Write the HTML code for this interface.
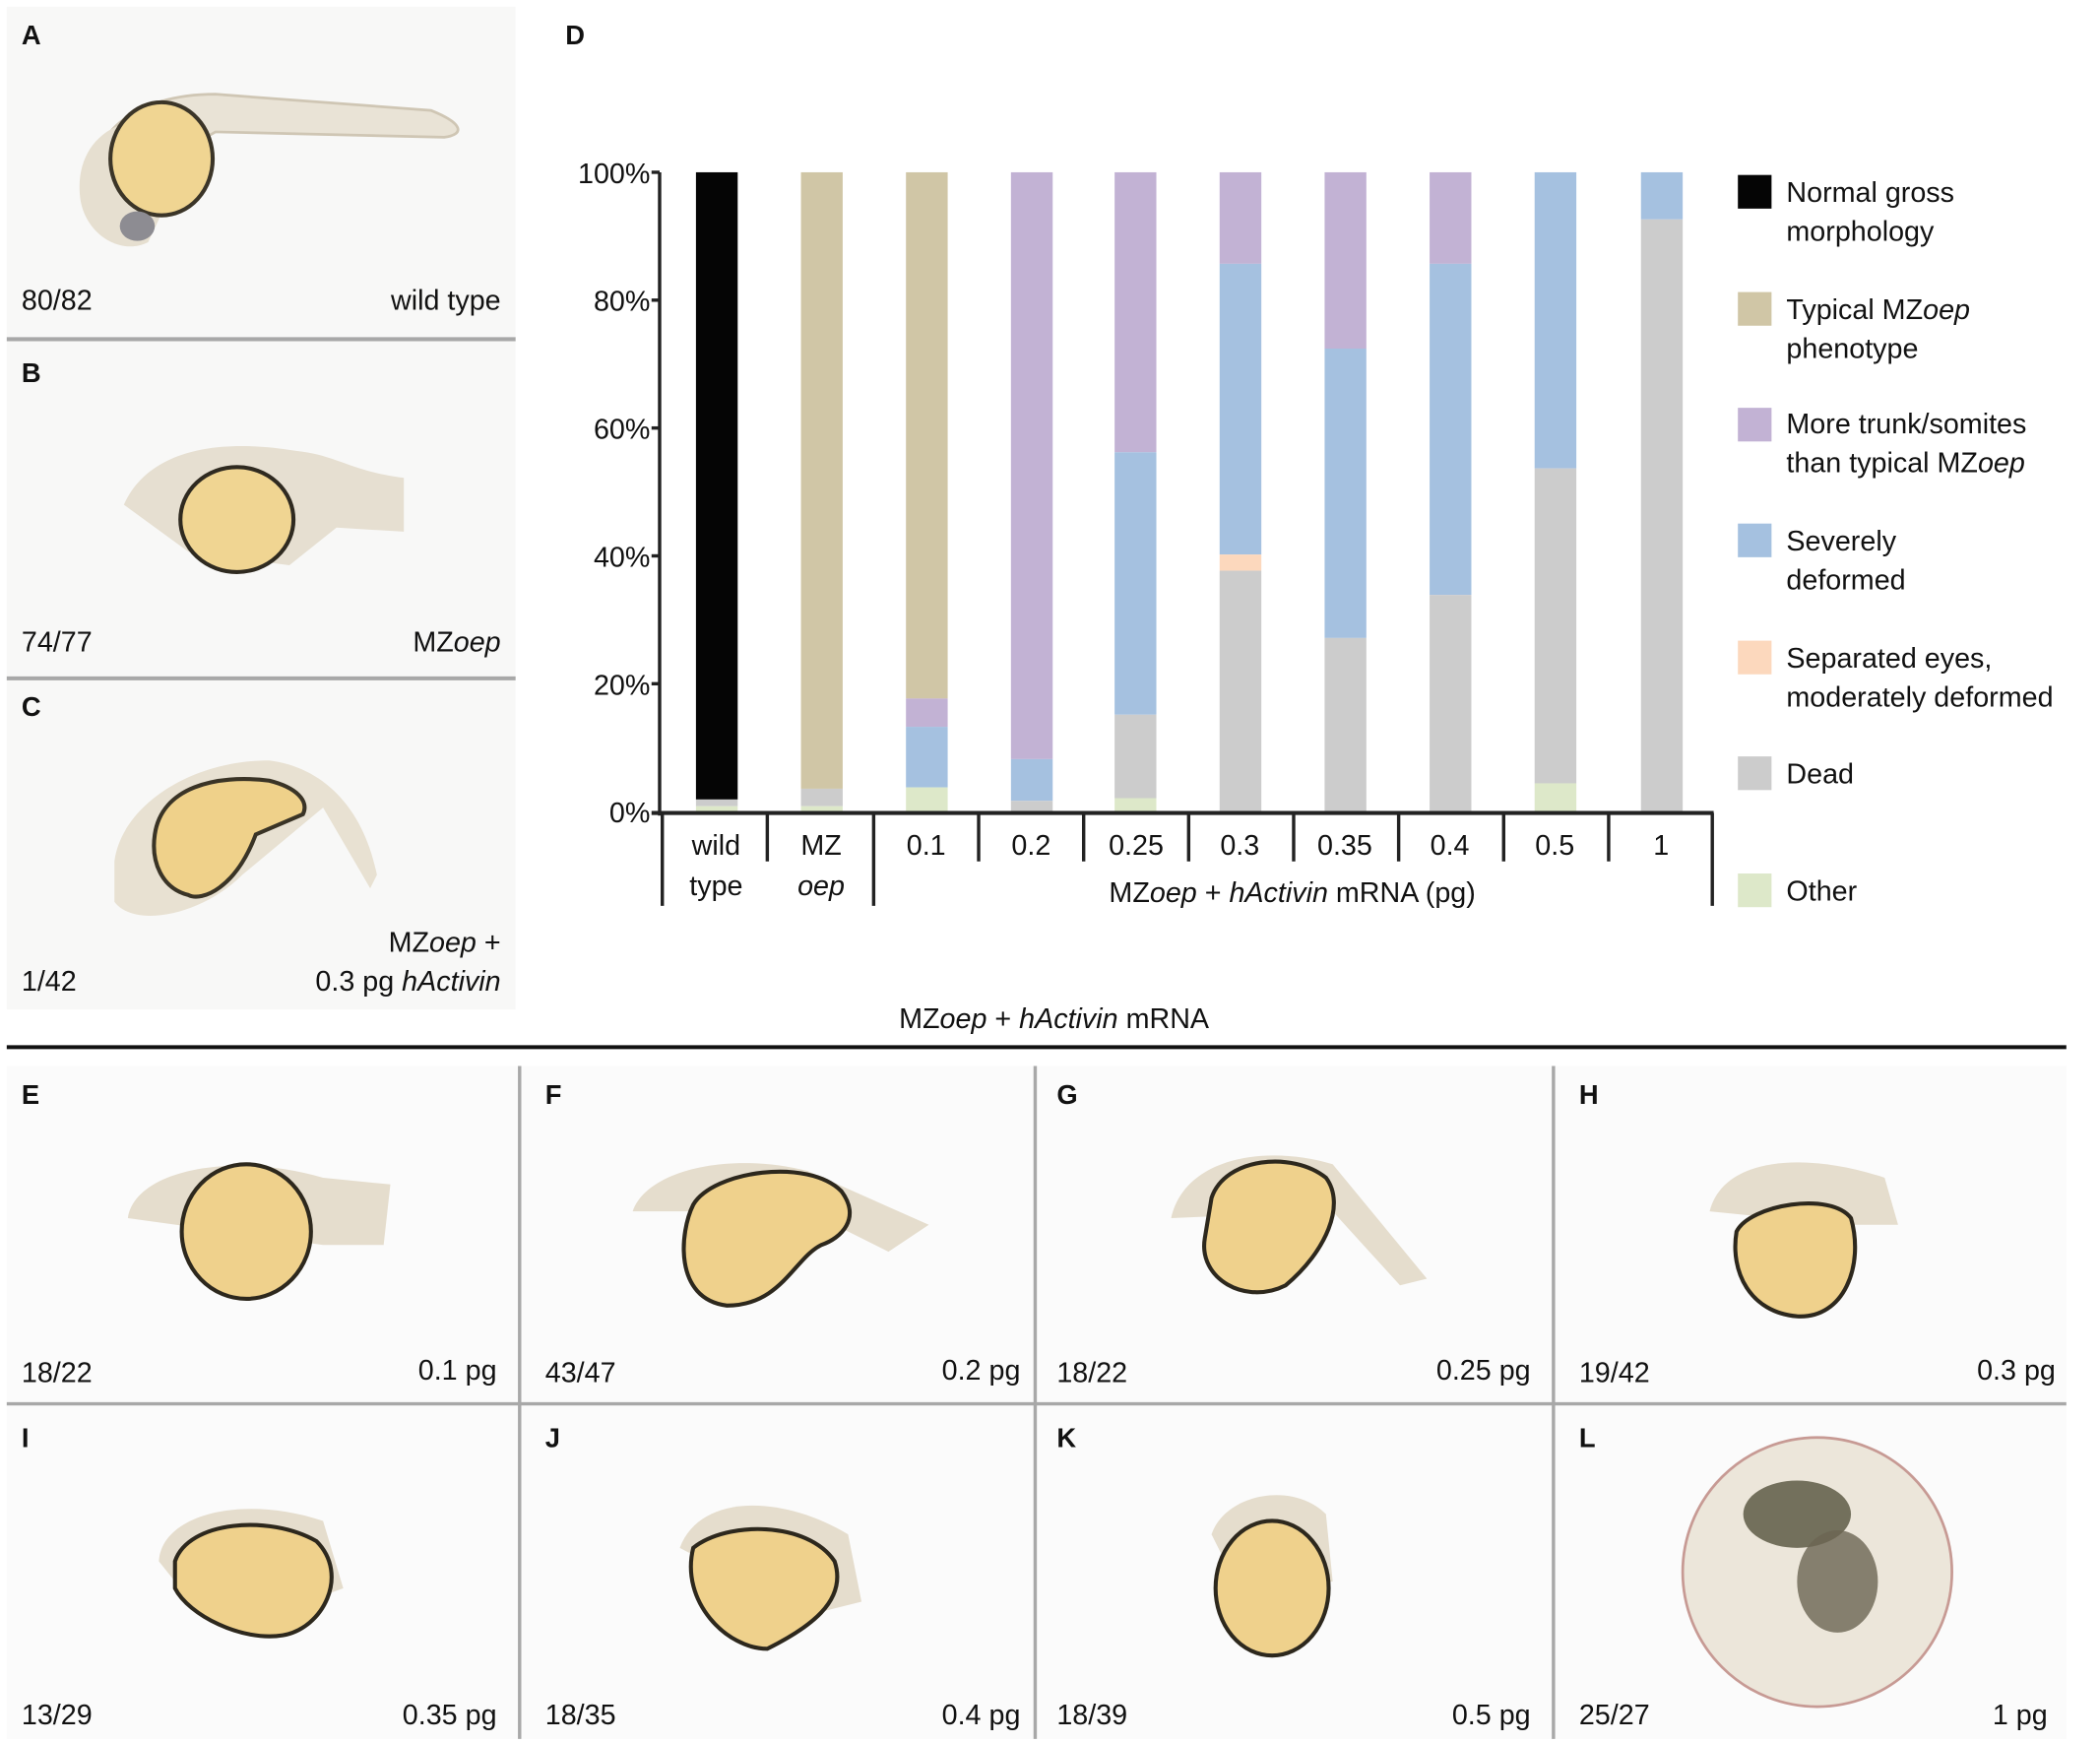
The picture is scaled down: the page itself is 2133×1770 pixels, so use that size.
<!DOCTYPE html>
<html><head><meta charset="utf-8"><style>
html,body{margin:0;padding:0;background:#fff}
svg{display:block}
text{font-family:"Liberation Sans",Arial,sans-serif}
</style></head><body>
<svg width="2133" height="1770" viewBox="0 0 1560 1295" preserveAspectRatio="none" xmlns="http://www.w3.org/2000/svg">
<rect width="1560" height="1295" fill="#fff"/>
<!-- left panels -->
<rect x="5" y="5" width="378" height="745" fill="#f8f8f7"/>
<line x1="5" y1="252" x2="383" y2="252" stroke="#a8a8a8" stroke-width="3"/>
<line x1="5" y1="504" x2="383" y2="504" stroke="#a8a8a8" stroke-width="3"/>
<g font-size="21" fill="#111">
<text x="16" y="33" font-weight="bold" font-size="20">A</text>
<text x="16" y="284" font-weight="bold" font-size="20">B</text>
<text x="16" y="532" font-weight="bold" font-size="20">C</text>
<text x="16" y="230">80/82</text><text x="372" y="230" text-anchor="end">wild type</text>
<text x="16" y="484">74/77</text><text x="372" y="484" text-anchor="end">MZ<tspan font-style="italic">oep</tspan></text>
<text x="16" y="736">1/42</text><text x="372" y="707" text-anchor="end">MZ<tspan font-style="italic">oep</tspan> +</text>
<text x="372" y="736" text-anchor="end">0.3 pg <tspan font-style="italic">hActivin</tspan></text>
</g>
<!-- embryo A -->
<path d="M70,150 C60,100 100,70 160,70 L320,82 C345,92 345,100 330,102 L160,98 Z" fill="#e9e3d6" stroke="#cfc6b4" stroke-width="2"/>
<path d="M60,150 C55,120 70,95 100,90 L150,95 L110,180 C90,190 65,175 60,150Z" fill="#e6dfd0"/>
<ellipse cx="120" cy="118" rx="38" ry="42" fill="#f0d592" stroke="#3b3528" stroke-width="3"/>
<ellipse cx="102" cy="168" rx="13" ry="11" fill="#8d8c92"/>
<!-- embryo B -->
<path d="M92,375 C110,335 160,325 220,335 C250,338 260,350 300,355 L300,395 L250,392 L215,420 L140,410 Z" fill="#e6dfd1"/>
<ellipse cx="176" cy="386" rx="42" ry="39" fill="#f0d592" stroke="#2f2a20" stroke-width="3"/>
<!-- embryo C -->
<path d="M85,640 C90,600 140,565 200,565 C240,570 270,600 280,650 L275,660 L240,600 L180,650 C150,680 100,690 85,670 Z" fill="#e8e1d2"/>
<path d="M115,620 C120,585 160,575 200,580 C220,585 230,595 225,605 L190,620 C175,660 150,670 140,665 C120,660 112,640 115,620Z" fill="#efd18a" stroke="#3a3426" stroke-width="3"/>
<!-- D chart -->
<text x="420" y="33" font-weight="bold" font-size="20" fill="#111">D</text>
<g font-size="21" fill="#111" text-anchor="end">
<text x="483" y="136">100%</text><text x="483" y="231">80%</text><text x="483" y="326">60%</text>
<text x="483" y="421">40%</text><text x="483" y="516">20%</text><text x="483" y="611">0%</text>
</g>
<g id="bars"></g>
<g>
<!-- bars: base y=604, 100%=128, scale 4.76/pct -->
<rect x="517" y="128" width="31" height="466" fill="#050505"/><rect x="517" y="594" width="31" height="5" fill="#cccccc"/><rect x="517" y="599" width="31" height="5" fill="#dde8c9"/>
<rect x="595" y="128" width="31" height="458" fill="#d0c6a6"/><rect x="595" y="586" width="31" height="13" fill="#cccccc"/><rect x="595" y="599" width="31" height="5" fill="#dde8c9"/>
<rect x="673" y="128" width="31" height="391" fill="#d0c6a6"/><rect x="673" y="519" width="31" height="21" fill="#c2b2d4"/><rect x="673" y="540" width="31" height="45" fill="#a5c1e0"/><rect x="673" y="585" width="31" height="19" fill="#dde8c9"/>
<rect x="751" y="128" width="31" height="436" fill="#c2b2d4"/><rect x="751" y="564" width="31" height="31" fill="#a5c1e0"/><rect x="751" y="595" width="31" height="9" fill="#cccccc"/>
<rect x="828" y="128" width="31" height="208" fill="#c2b2d4"/><rect x="828" y="336" width="31" height="195" fill="#a5c1e0"/><rect x="828" y="531" width="31" height="62" fill="#cccccc"/><rect x="828" y="593" width="31" height="11" fill="#dde8c9"/>
<rect x="906" y="128" width="31" height="68" fill="#c2b2d4"/><rect x="906" y="196" width="31" height="216" fill="#a5c1e0"/><rect x="906" y="412" width="31" height="12" fill="#fcd8bd"/><rect x="906" y="424" width="31" height="180" fill="#cccccc"/>
<rect x="984" y="128" width="31" height="131" fill="#c2b2d4"/><rect x="984" y="259" width="31" height="215" fill="#a5c1e0"/><rect x="984" y="474" width="31" height="130" fill="#cccccc"/>
<rect x="1062" y="128" width="31" height="68" fill="#c2b2d4"/><rect x="1062" y="196" width="31" height="246" fill="#a5c1e0"/><rect x="1062" y="442" width="31" height="162" fill="#cccccc"/>
<rect x="1140" y="128" width="31" height="220" fill="#a5c1e0"/><rect x="1140" y="348" width="31" height="234" fill="#cccccc"/><rect x="1140" y="582" width="31" height="22" fill="#dde8c9"/>
<rect x="1219" y="128" width="31" height="35" fill="#a5c1e0"/><rect x="1219" y="163" width="31" height="441" fill="#cccccc"/>
</g>
<g stroke="#222" stroke-width="2.5" fill="none">
<line x1="490" y1="128" x2="490" y2="606"/>
<line x1="484" y1="128" x2="490" y2="128"/><line x1="484" y1="223" x2="490" y2="223"/><line x1="484" y1="318" x2="490" y2="318"/>
<line x1="484" y1="413" x2="490" y2="413"/><line x1="484" y1="508" x2="490" y2="508"/>
<line x1="484" y1="604" x2="1273" y2="604" stroke-width="3"/>
<line x1="492" y1="604" x2="492" y2="673"/><line x1="570" y1="604" x2="570" y2="640"/>
<line x1="649" y1="604" x2="649" y2="673"/><line x1="727" y1="604" x2="727" y2="640"/>
<line x1="805" y1="604" x2="805" y2="640"/><line x1="883" y1="604" x2="883" y2="640"/>
<line x1="961" y1="604" x2="961" y2="640"/><line x1="1039" y1="604" x2="1039" y2="640"/>
<line x1="1117" y1="604" x2="1117" y2="640"/><line x1="1195" y1="604" x2="1195" y2="640"/>
<line x1="1272" y1="604" x2="1272" y2="673"/>
</g>
<g font-size="21" fill="#111" text-anchor="middle">
<text x="532" y="635">wild</text><text x="532" y="665">type</text>
<text x="610" y="635">MZ</text><text x="610" y="665" font-style="italic">oep</text>
<text x="688" y="635">0.1</text><text x="766" y="635">0.2</text><text x="844" y="635">0.25</text>
<text x="921" y="635">0.3</text><text x="999" y="635">0.35</text><text x="1077" y="635">0.4</text>
<text x="1155" y="635">0.5</text><text x="1234" y="635">1</text>
<text x="960" y="670">MZ<tspan font-style="italic">oep</tspan> + <tspan font-style="italic">hActivin</tspan> mRNA (pg)</text>
</g>
<!-- legend -->
<g font-size="21" fill="#111">
<rect x="1291" y="130" width="25" height="25" fill="#050505"/><text x="1327" y="150">Normal gross</text><text x="1327" y="179">morphology</text>
<rect x="1291" y="217" width="25" height="25" fill="#d0c6a6"/><text x="1327" y="237">Typical MZ<tspan font-style="italic">oep</tspan></text><text x="1327" y="266">phenotype</text>
<rect x="1291" y="303" width="25" height="25" fill="#c2b2d4"/><text x="1327" y="322">More trunk/somites</text><text x="1327" y="351">than typical MZ<tspan font-style="italic">oep</tspan></text>
<rect x="1291" y="389" width="25" height="25" fill="#a5c1e0"/><text x="1327" y="409">Severely</text><text x="1327" y="438">deformed</text>
<rect x="1291" y="476" width="25" height="25" fill="#fcd8bd"/><text x="1327" y="496">Separated eyes,</text><text x="1327" y="525">moderately deformed</text>
<rect x="1291" y="562" width="25" height="25" fill="#cccccc"/><text x="1327" y="582">Dead</text>
<rect x="1291" y="649" width="25" height="25" fill="#dde8c9"/><text x="1327" y="669">Other</text>
</g>
<text x="783" y="764" font-size="21" fill="#111" text-anchor="middle">MZ<tspan font-style="italic">oep</tspan> + <tspan font-style="italic">hActivin</tspan> mRNA</text>
<line x1="5" y1="778" x2="1535" y2="778" stroke="#111" stroke-width="3"/>
<!-- bottom grid -->
<rect x="5" y="792" width="1530" height="500" fill="#fbfbfb"/>
<g stroke="#a8a8a8" stroke-width="2.5">
<line x1="386" y1="792" x2="386" y2="1292"/><line x1="769" y1="792" x2="769" y2="1292"/><line x1="1154" y1="792" x2="1154" y2="1292"/>
<line x1="5" y1="1043" x2="1535" y2="1043"/>
</g>
<g font-size="21" fill="#111">
<g font-weight="bold" font-size="20">
<text x="16" y="820">E</text><text x="405" y="820">F</text><text x="785" y="820">G</text><text x="1173" y="820">H</text>
<text x="16" y="1075">I</text><text x="405" y="1075">J</text><text x="785" y="1075">K</text><text x="1173" y="1075">L</text>
</g>
<text x="16" y="1027">18/22</text><text x="369" y="1025" text-anchor="end">0.1 pg</text>
<text x="405" y="1027">43/47</text><text x="758" y="1025" text-anchor="end">0.2 pg</text>
<text x="785" y="1027">18/22</text><text x="1137" y="1025" text-anchor="end">0.25 pg</text>
<text x="1173" y="1027">19/42</text><text x="1527" y="1025" text-anchor="end">0.3 pg</text>
<text x="16" y="1281">13/29</text><text x="369" y="1281" text-anchor="end">0.35 pg</text>
<text x="405" y="1281">18/35</text><text x="758" y="1281" text-anchor="end">0.4 pg</text>
<text x="785" y="1281">18/39</text><text x="1137" y="1281" text-anchor="end">0.5 pg</text>
<text x="1173" y="1281">25/27</text><text x="1521" y="1281" text-anchor="end">1 pg</text>
</g>
<!-- embryos E-L -->
<g fill="#e5ddcd">
<path d="M95,905 C100,870 170,855 240,875 L290,880 L285,925 L240,925 Z"/>
<path d="M470,900 C480,870 540,855 600,870 L690,910 L660,930 L600,900 Z"/>
<path d="M870,905 C880,860 940,850 990,865 L1060,950 L1040,955 L990,900 Z"/>
<path d="M1270,900 C1280,860 1340,855 1400,875 L1410,910 L1370,910 Z"/>
<path d="M118,1160 C120,1125 180,1110 240,1130 L255,1180 L200,1200 L150,1200 Z"/>
<path d="M505,1150 C520,1110 580,1110 630,1140 L640,1190 L600,1200 Z"/>
<path d="M900,1140 C910,1110 960,1100 985,1125 L990,1175 L920,1180 Z"/>
</g>
<g stroke="#2d281d" stroke-width="3" fill="#efd18c">
<ellipse cx="183" cy="915" rx="48" ry="50"/>
<path d="M515,895 C530,870 600,860 625,885 C640,905 625,920 610,925 C590,935 580,970 540,970 C500,965 505,915 515,895Z"/>
<path d="M900,890 C910,860 960,855 985,875 C1000,895 985,930 955,955 C925,970 890,950 895,920Z"/>
<path d="M1290,915 C1300,895 1360,885 1375,905 C1385,940 1370,980 1335,978 C1300,975 1285,945 1290,915Z"/>
<path d="M130,1160 C140,1130 200,1125 235,1145 C260,1170 240,1210 210,1215 C180,1220 140,1200 130,1180Z"/>
<path d="M515,1150 C540,1130 600,1130 620,1160 C630,1190 600,1210 570,1225 C540,1225 505,1190 515,1150Z"/>
<ellipse cx="945" cy="1180" rx="42" ry="50"/>
</g>
<circle cx="1350" cy="1168" r="100" fill="#ece6da" stroke="#c79a94" stroke-width="2"/>
<ellipse cx="1335" cy="1125" rx="40" ry="25" fill="#5e5a45" opacity="0.85"/>
<ellipse cx="1365" cy="1175" rx="30" ry="38" fill="#6b6552" opacity="0.8"/>
</svg>
</body></html>
